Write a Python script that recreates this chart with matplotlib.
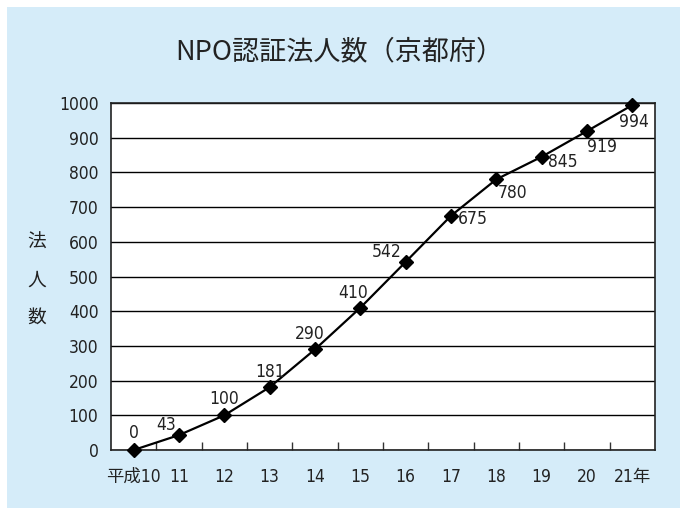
import matplotlib
matplotlib.use("Agg")
import matplotlib.pyplot as plt
from matplotlib.patches import Rectangle

plt.rcParams['font.family'] = ['DejaVu Sans', 'Noto Sans CJK JP']
plt.rcParams['font.stretch'] = 'condensed'

years = ["平成10", "11", "12", "13", "14", "15", "16", "17", "18", "19", "20", "21年"]
counts = [0, 43, 100, 181, 290, 410, 542, 675, 780, 845, 919, 994]
title = "NPO認証法人数（京都府）"
y_ticks = [0, 100, 200, 300, 400, 500, 600, 700, 800, 900, 1000]

# label offsets (points) per data point
offsets = [(0, 12), (-9.5, 7), (0, 11.5), (0, 11), (-3.5, 11), (-5, 10.5), (-13.5, 7),
           (16, -2), (11.5, -10), (15, -3.7), (11, -11.5), (1.5, -12)]

bg = "#d5ecf9"
ink = "#222222"
fig = plt.figure(figsize=(6.8, 5.08), dpi=100)
fig.patch.set_facecolor("white")
fig.add_artist(Rectangle((7 / 680, 0), 1, 1 - 7 / 508, transform=fig.transFigure,
                         facecolor=bg, edgecolor="none", zorder=-10))

ax = fig.add_axes([111 / 680, 1 - 450 / 508, 544 / 680, 347 / 508])
ax.set_facecolor("white")
x = list(range(len(years)))
ax.plot(x, counts, color="black", lw=1.6, marker="D", ms=7, zorder=3, clip_on=False)

for xi, v, (dx, dy) in zip(x, counts, offsets):
    ax.annotate(str(v), (xi, v), xytext=(dx, dy), textcoords="offset points",
                ha="center", va="center", fontsize=12.5, color=ink)

ax.set_xlim(-0.5, len(years) - 0.5)
ax.set_ylim(0, 1000)
ax.set_yticks(y_ticks)
ax.set_yticklabels([str(t) for t in y_ticks], fontsize=12.5, color=ink)
ax.yaxis.grid(True, color="black", lw=1.0)
ax.set_axisbelow(True)
ax.tick_params(axis="y", length=0, pad=9)

ax.set_xticks([i + 0.5 for i in x[:-1]])
ax.set_xticklabels([])
ax.set_xticks(x, minor=True)
ax.set_xticklabels(years, minor=True, fontsize=12.5, color=ink)
ax.tick_params(axis="x", which="major", direction="in", length=6, width=1, color="#333333")
ax.tick_params(axis="x", which="minor", length=0, pad=13)

for s in ax.spines.values():
    s.set_color(ink)
    s.set_linewidth(1.2)

for ch, yy in zip("法人数", (242, 280, 317)):
    fig.text(37 / 680, 1 - yy / 508, ch, fontsize=13.5, ha="center", va="center", color=ink,
             family=['Noto Sans CJK JP'])

fig.text(339 / 680, 1 - 52 / 508, title, fontsize=19.5, ha="center", va="center", color=ink,
         family=['Noto Sans CJK JP', 'DejaVu Sans'])

fig.savefig("out.png", dpi=100, facecolor=fig.get_facecolor())
